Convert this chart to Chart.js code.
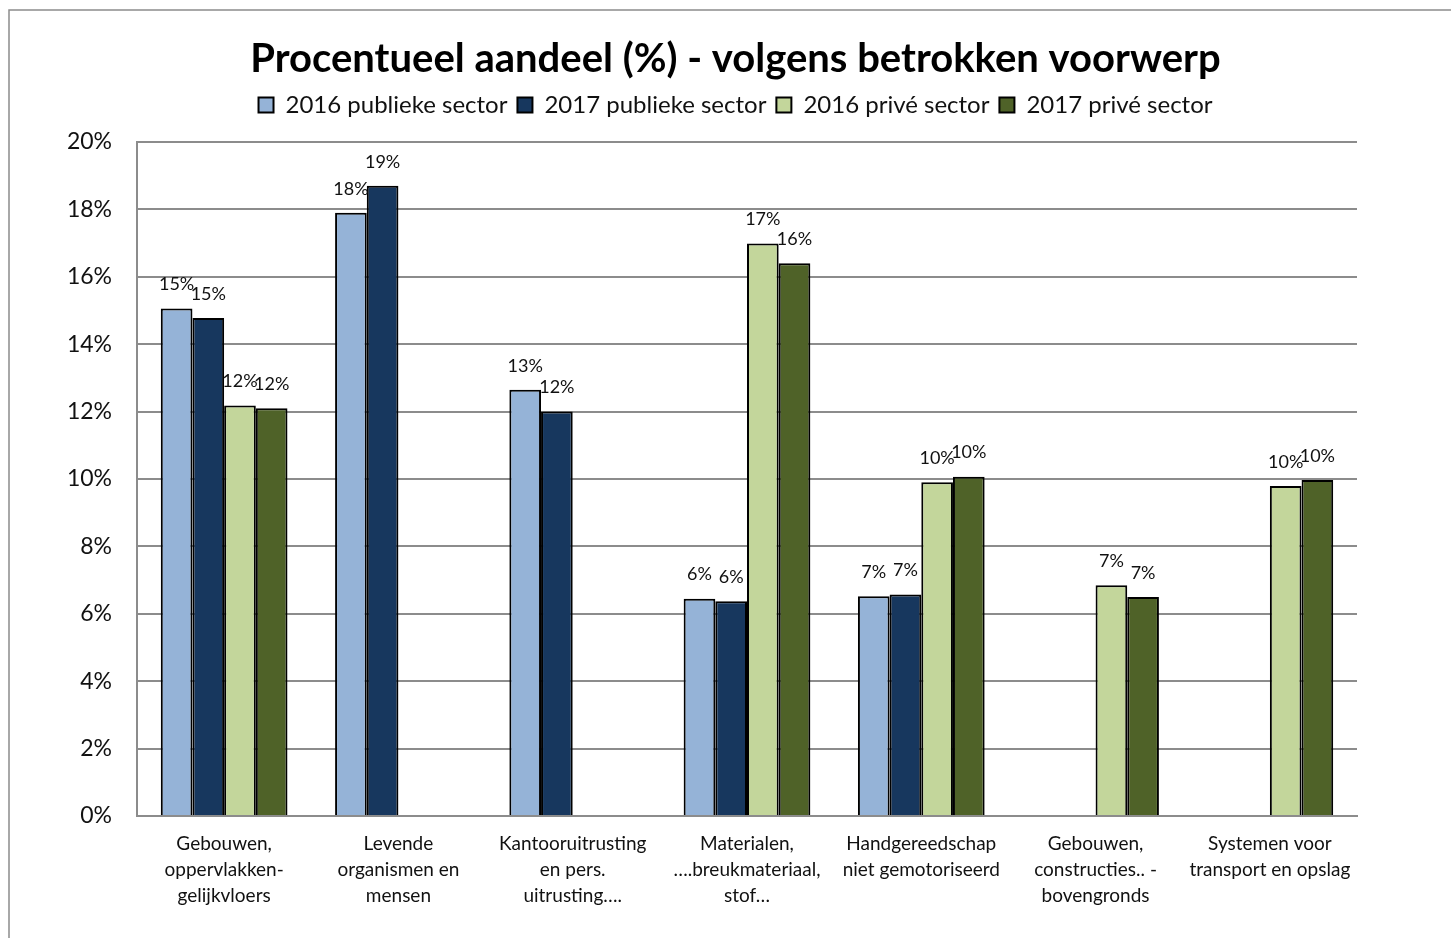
<!DOCTYPE html>
<html>
<head>
<meta charset="utf-8">
<script src="https://cdn.jsdelivr.net/npm/chart.js@4"></script>
<style>
html,body{margin:0;padding:0;background:#fff;}
#wrap{position:absolute;left:0;top:0;width:1451px;height:938px;}
</style>
</head>
<body>
<div id="wrap"><canvas id="c" width="1451" height="938"></canvas></div>
<script>
const categories = [
  ["Gebouwen,", "oppervlakken-", "gelijkvloers"],
  ["Levende", "organismen en", "mensen"],
  ["Kantooruitrusting", "en pers.", "uitrusting…."],
  ["Materialen,", "….breukmateriaal,", "stof…"],
  ["Handgereedschap", "niet gemotoriseerd"],
  ["Gebouwen,", "constructies.. -", "bovengronds"],
  ["Systemen voor", "transport en opslag"]
];
const seriesNames = ["2016 publieke sector", "2017 publieke sector", "2016 privé sector", "2017 privé sector"];
const publiek2016 = [15.06, 17.9, 12.65, 6.45, 6.52, null, null];
const publiek2017 = [14.78, 18.7, 12.0, 6.37, 6.57, null, null];
const prive2016 = [12.18, null, null, 16.99, 9.9, 6.85, 9.79];
const prive2017 = [12.1, null, null, 16.4, 10.07, 6.5, 9.97];
const yTicks = [0, 2, 4, 6, 8, 10, 12, 14, 16, 18, 20];

const colors = ["#95B3D7", "#17375E", "#C3D69B", "#4F6228"];
const FONT = "Lato, 'Open Sans', sans-serif";

const frame = {
  id: 'frame',
  afterInit(chart) {
    const lg = chart.legend;
    if (lg && !lg._patched) {
      const orig = lg.fit.bind(lg);
      lg.fit = function () { orig(); this.height += 15; };
      lg._patched = true;
    }
  },
  afterLayout(chart) {
    const shift = 57;
    [chart.titleBlock, chart.legend].forEach(b => {
      if (b) { b.left += shift; b.right += shift; }
    });
  },
  beforeDraw(chart) {
    const ctx = chart.ctx;
    ctx.save();
    ctx.fillStyle = '#fff';
    ctx.fillRect(0, 0, chart.width, chart.height);
    ctx.strokeStyle = '#8c8c8c';
    ctx.lineWidth = 1.5;
    ctx.strokeRect(9, 10, chart.width + 20, chart.height + 20);
    ctx.restore();
  }
};

const labelsPlugin = {
  id: 'barLabels',
  afterDatasetsDraw(chart) {
    const ctx = chart.ctx;
    ctx.save();
    ctx.font = "18px " + FONT;
    ctx.fillStyle = '#111';
    ctx.textAlign = 'center';
    ctx.textBaseline = 'middle';
    chart.data.datasets.forEach((ds, di) => {
      const meta = chart.getDatasetMeta(di);
      meta.data.forEach((bar, i) => {
        const v = ds.data[i];
        if (v === null || v === undefined) return;
        ctx.fillText(Math.round(v) + '%', bar.x, bar.y - 24);
      });
    });
    ctx.restore();
  }
};

new Chart(document.getElementById('c'), {
  type: 'bar',
  data: {
    labels: categories,
    datasets: [publiek2016, publiek2017, prive2016, prive2017].map((d, i) => ({
      label: seriesNames[i],
      data: d,
      backgroundColor: colors[i],
      borderColor: '#000',
      borderWidth: 2,
      borderSkipped: 'bottom',
      categoryPercentage: 0.727,
      barPercentage: 1.0
    }))
  },
  options: {
    responsive: false,
    animation: false,
    layout: { padding: { left: 0, right: 94, top: 35, bottom: 0 } },
    plugins: {
      title: {
        display: true,
        text: 'Procentueel aandeel (%) - volgens betrokken voorwerp',
        color: '#000',
        font: { family: FONT, size: 40, weight: 'bold' },
        padding: { top: 0, bottom: 0 },
        align: 'center'
      },
      legend: {
        display: true,
        position: 'top',
        labels: {
          color: '#111',
          font: { family: FONT, size: 24 },
          boxWidth: 15,
          boxHeight: 15,
          padding: 10
        }
      },
      tooltip: { enabled: false }
    },
    scales: {
      x: {
        grid: { display: false, drawTicks: false },
        border: { display: true, color: '#8c8c8c', width: 2 },
        ticks: {
          color: '#111',
          font: { family: FONT, size: 19, lineHeight: 1.37 },
          padding: 15,
          maxRotation: 0,
          autoSkip: false
        },
        afterFit(scale) { scale.height = 122; }
      },
      y: {
        min: 0,
        max: 20,
        afterBuildTicks(scale) { scale.ticks = yTicks.map(v => ({ value: v })); },
        grid: { color: '#8c8c8c', lineWidth: 2, drawTicks: false },
        border: { display: true, color: '#8c8c8c', width: 2 },
        ticks: {
          color: '#111',
          font: { family: FONT, size: 23 },
          padding: 25,
          callback: v => v + '%'
        },
        afterFit(scale) { scale.width = 137; }
      }
    }
  },
  plugins: [frame, labelsPlugin]
});
</script>
</body>
</html>
